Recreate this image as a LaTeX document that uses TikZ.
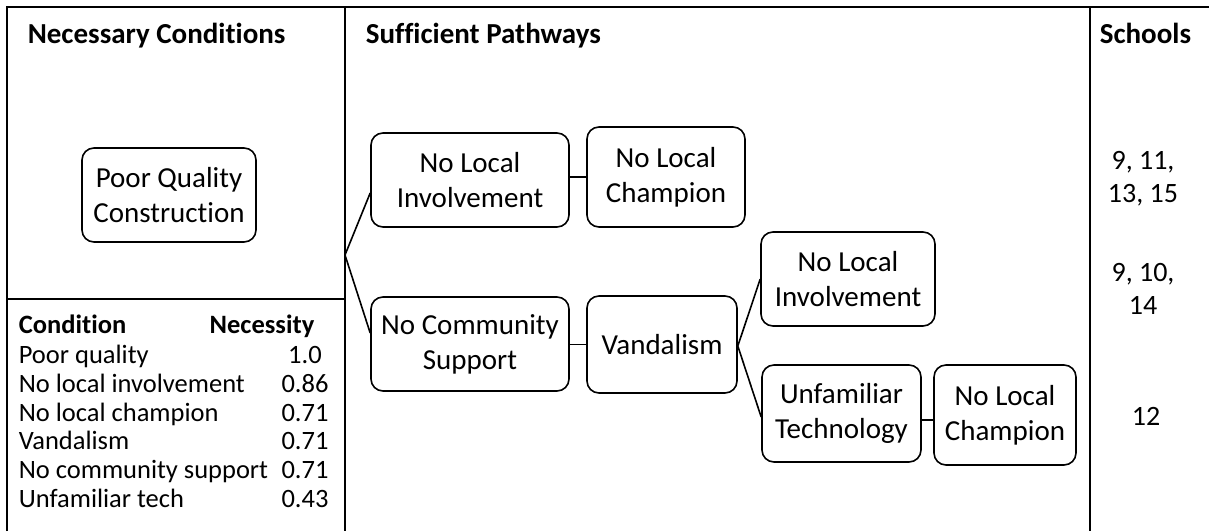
\documentclass[tikz,border=0pt]{standalone}
\usepackage{fontspec}
\setmainfont{Carlito}[RawFeature={-liga}]
\begin{document}
\begin{tikzpicture}[x=1pt,y=-1pt,
  line width=1.6pt,
  cbox/.style={draw, rounded corners=12pt, align=center, inner sep=0pt,
    font=\fontsize{29}{35}\selectfont},
  head/.style={anchor=base west, inner sep=0pt, font=\fontsize{29}{35}\selectfont\bfseries},
  trow/.style={anchor=base west, inner sep=0pt, font=\fontsize{26.5}{29}\selectfont},
  tnum/.style={anchor=base, inner sep=0pt, font=\fontsize{26.5}{29}\selectfont},
  sch/.style={align=center, inner sep=0pt, font=\fontsize{28}{33}\selectfont},
  conn/.style={line width=1.6pt}]
\useasboundingbox (0,0) rectangle (1209,531);
% frame
\draw (7,531) -- (7,7) -- (1209,7);
\draw (345,7) -- (345,531);
\draw (1090,7) -- (1090,531);
\draw (7,299) -- (345,299);
% headings
\node[head] (h1) at (27,43) {Necessary Conditions};
\node[head] (h2) at (365,43) {Sufficient Pathways};
\node[head] (h3) at (1099,43) {Schools};
% necessary
\node[cbox, minimum width=174pt, minimum height=94pt] (pqc) at (169,195) {Poor Quality\\Construction};
% table
\node[head, font=\fontsize{26.5}{29}\selectfont\bfseries] (tc) at (18,333) {Condition};
\node[anchor=base, inner sep=0pt, font=\fontsize{26.5}{29}\selectfont\bfseries] (tn) at (262,333) {Necessity};
\node[trow] (r1) at (18,363) {Poor quality};
\node[trow] (r2) at (18,392) {No local involvement};
\node[trow] (r3) at (18,421) {No local champion};
\node[trow] (r4) at (18,449) {Vandalism};
\node[trow] (r5) at (18,478) {No community support};
\node[trow] (r6) at (18,507) {Unfamiliar tech};
\node[tnum] (v1) at (305,363) {1.0};
\node[tnum] (v2) at (305,392) {0.86};
\node[tnum] (v3) at (305,421) {0.71};
\node[tnum] (v4) at (305,449) {0.71};
\node[tnum] (v5) at (305,478) {0.71};
\node[tnum] (v6) at (305,507) {0.43};
% pathways
\node[cbox, minimum width=198pt, minimum height=94pt] (nli1) at (470,180) {No Local\\Involvement};
\node[cbox, minimum width=158pt, minimum height=100pt] (nlc1) at (666,177) {No Local\\Champion};
\node[cbox, minimum width=198pt, minimum height=94pt] (ncs) at (470,344) {No Community\\Support};
\node[cbox, minimum width=150pt, minimum height=97pt] (vand) at (662,344.5) {Vandalism};
\node[cbox, minimum width=174pt, minimum height=94pt] (nli2) at (848,279) {No Local\\Involvement};
\node[cbox, minimum width=159pt, minimum height=97pt] (ut) at (841.5,413.5) {Unfamiliar\\Technology};
\node[cbox, minimum width=142pt, minimum height=100pt] (nlc2) at (1005,415) {No Local\\Champion};
\coordinate (b1) at (345,255);
\draw[conn] ([yshift=-13pt]nli1.west) -- (b1) -- ([yshift=11pt]ncs.west);
\draw[conn] (nli1.east |- nlc1.west) -- (nlc1.west);
\draw[conn] (ncs.east |- vand.west) -- (vand.west);
\draw[conn] (nli2.west) -- ([yshift=-1.5pt]vand.east) -- ([yshift=-3.5pt]ut.west);
\draw[conn] ([yshift=-5pt]nlc2.west -| ut.east) -- ([yshift=-5pt]nlc2.west);
% schools
\node[sch] (s1) at (1143,179) {9, 11,\\13, 15};
\node[sch] (s2) at (1143,289) {9, 10,\\14};
\node[sch] (s3) at (1146,416) {12};
\end{tikzpicture}
\end{document}
